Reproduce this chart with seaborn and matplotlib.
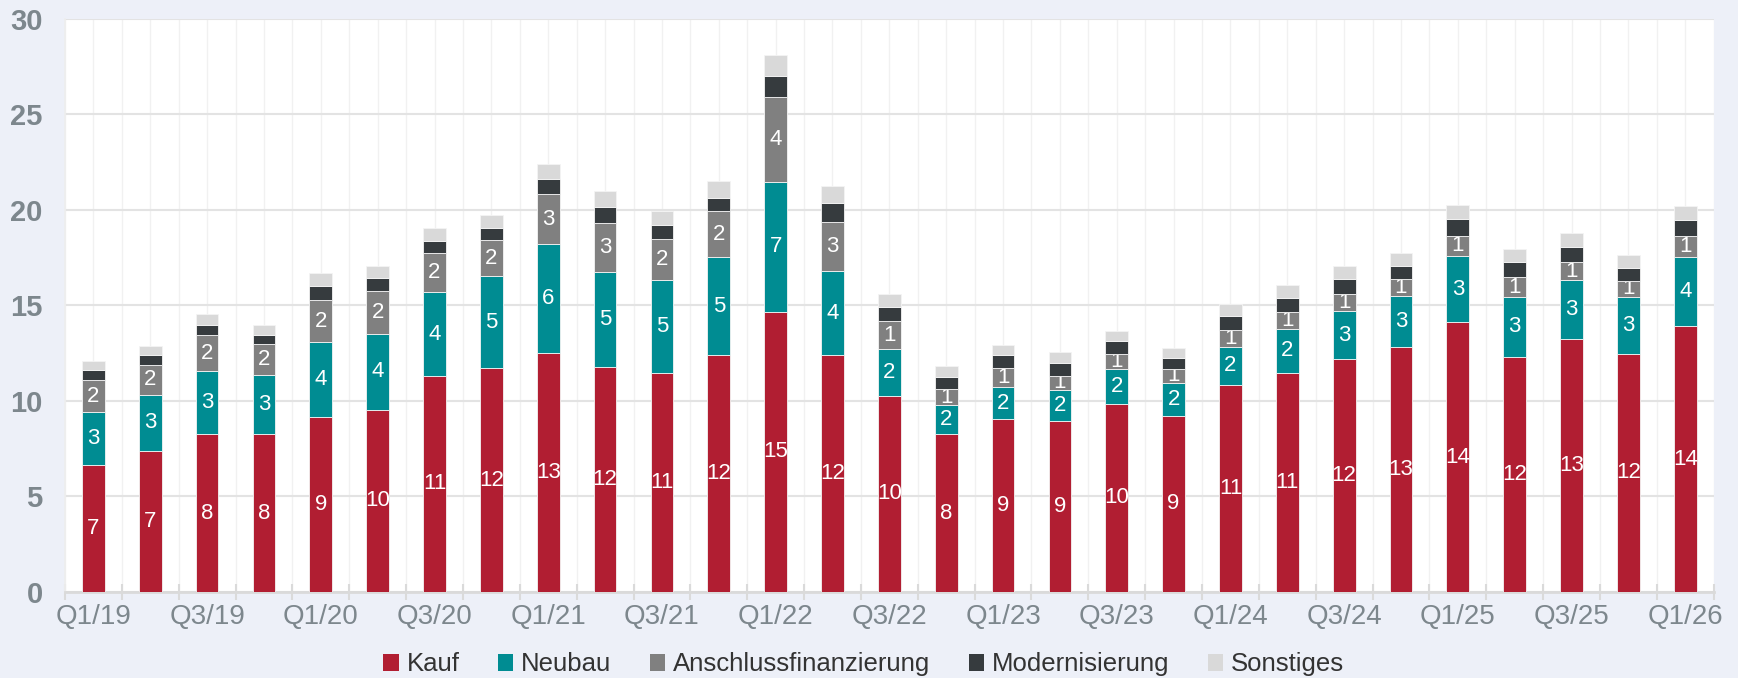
import matplotlib
matplotlib.use("Agg")
import matplotlib.pyplot as plt
import seaborn as sns
import numpy as np
import pandas as pd
from matplotlib.patches import Patch

quarters = ["Q1/19", "Q2/19", "Q3/19", "Q4/19", "Q1/20", "Q2/20", "Q3/20", "Q4/20",
            "Q1/21", "Q2/21", "Q3/21", "Q4/21", "Q1/22", "Q2/22", "Q3/22", "Q4/22",
            "Q1/23", "Q2/23", "Q3/23", "Q4/23", "Q1/24", "Q2/24", "Q3/24", "Q4/24",
            "Q1/25", "Q2/25", "Q3/25", "Q4/25", "Q1/26"]

kauf = [6.63, 7.37, 8.26, 8.26, 9.16, 9.53, 11.32, 11.70, 12.53, 11.79, 11.44, 12.39,
        14.68, 12.39, 10.26, 8.26, 9.04, 8.93, 9.84, 9.21, 10.84, 11.47, 12.18, 12.84,
        14.12, 12.30, 13.25, 12.47, 13.91]
neubau = [2.77, 2.95, 3.32, 3.11, 3.91, 3.97, 4.36, 4.83, 5.68, 4.95, 4.88, 5.15,
          6.79, 4.40, 2.45, 1.51, 1.70, 1.63, 1.81, 1.75, 2.00, 2.32, 2.54, 2.63,
          3.46, 3.16, 3.07, 2.99, 3.62]
anschluss = [1.68, 1.56, 1.85, 1.61, 2.23, 2.24, 2.04, 1.89, 2.61, 2.58, 2.15, 2.39,
             4.44, 2.58, 1.45, 0.84, 0.96, 0.76, 0.81, 0.71, 0.86, 0.86, 0.86, 0.90,
             1.07, 1.01, 0.96, 0.84, 1.12]
modern = [0.53, 0.53, 0.55, 0.47, 0.70, 0.72, 0.68, 0.62, 0.79, 0.84, 0.72, 0.70,
          1.13, 1.02, 0.76, 0.65, 0.70, 0.68, 0.68, 0.58, 0.76, 0.75, 0.82, 0.72,
          0.86, 0.78, 0.76, 0.66, 0.81]
sonstiges = [0.47, 0.49, 0.55, 0.55, 0.68, 0.61, 0.67, 0.71, 0.78, 0.82, 0.76, 0.86,
             1.10, 0.86, 0.70, 0.56, 0.53, 0.54, 0.53, 0.50, 0.61, 0.67, 0.67, 0.66,
             0.77, 0.73, 0.73, 0.67, 0.77]

series = ["Kauf", "Neubau", "Anschlussfinanzierung", "Modernisierung", "Sonstiges"]
colors = ["#B11E32", "#008C92", "#808080", "#363B3E", "#D9D9D9"]
labeled = [True, True, True, False, False]

df = pd.DataFrame({"Quartal": quarters, "Kauf": kauf, "Neubau": neubau,
                   "Anschlussfinanzierung": anschluss, "Modernisierung": modern,
                   "Sonstiges": sonstiges})

bg = "#EDF0F8"
tick_grey = "#7D878D"

sns.set_theme(style="white")
plt.rcParams["font.family"] = ["Liberation Sans", "DejaVu Sans"]

fig = plt.figure(figsize=(17.38, 6.78), dpi=100, facecolor=bg)
ax = fig.add_axes([0.0374, 0.127, 0.9486, 0.845])
ax.set_facecolor("white")

bottom = np.zeros(len(quarters))
for name, col, lab in zip(series, colors, labeled):
    sns.barplot(data=df, x="Quartal", y=name, color=col, saturation=1, width=0.4,
                bottom=bottom, edgecolor="#F4F4F4", linewidth=0.6, ax=ax, zorder=3)
    if lab:
        ax.bar_label(ax.containers[-1], labels=[f"{v:.0f}" for v in df[name]],
                     label_type="center", color="white", fontsize=16)
    bottom = bottom + df[name].values

n = len(quarters)
ax.set_xlim(-0.5, n - 0.5)
ax.set_ylim(0, 30)
ax.set_yticks(range(0, 31, 5))
ax.set_xticks(np.arange(-0.5, n, 1.0))
ax.set_xticklabels([])
ax.set_xticks(np.arange(0, n, 1), minor=True)
ax.set_xticklabels([q if i % 2 == 0 else "" for i, q in enumerate(quarters)], minor=True)
ax.set_xlabel("")
ax.set_ylabel("")

ax.tick_params(axis="x", which="major", direction="inout", length=12, width=1.5,
               color="#DADADA", bottom=True)
ax.tick_params(axis="x", which="minor", length=0, pad=9, labelsize=20, labelcolor=tick_grey)
ax.tick_params(axis="y", length=0, pad=16, labelsize=21, labelcolor=tick_grey)
for t in ax.get_yticklabels():
    t.set_fontweight("bold")

ax.grid(axis="y", color="#E3E3E3", linewidth=1.5, zorder=0)
ax.grid(axis="x", which="both", color="#F1F1F1", linewidth=1.0, zorder=0)
ax.set_axisbelow(True)

for s in ["top", "right"]:
    ax.spines[s].set_visible(False)
ax.spines["left"].set_color("#EEEEEE")
ax.spines["bottom"].set_color("#DADADA")
ax.spines["bottom"].set_linewidth(2)

handles = [Patch(facecolor=c, edgecolor="none") for c in colors]
fig.legend(handles, series, loc="center", bbox_to_anchor=(0.497, 0.02), ncol=5,
           frameon=False, fontsize=18.5, handlelength=0.6, handleheight=0.6,
           handletextpad=0.3, columnspacing=1.5, labelcolor="#333333")

fig.savefig("out.png", dpi=100, facecolor=bg)
